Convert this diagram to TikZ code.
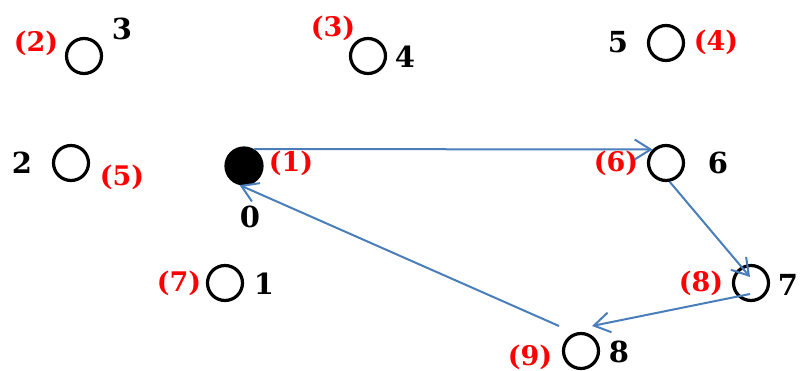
\documentclass[tikz,border=0pt]{standalone}
\usepackage{fontspec}
\setmainfont{DejaVu Serif}
\usetikzlibrary{arrows.meta}
\definecolor{arrowblue}{HTML}{4A7EBB}
\definecolor{labred}{HTML}{FF0000}
\begin{document}
\begin{tikzpicture}[x=1pt,y=-1pt,
  vert/.style={circle,draw=black,line width=3.2pt,minimum size=35pt,inner sep=0pt},
  vfill/.style={vert,fill=black,minimum size=36pt},
  num/.style={font=\fontsize{29}{29}\selectfont\bfseries,text=black,inner sep=0pt},
  ord/.style={font=\fontsize{27}{27}\selectfont\bfseries,text=labred,inner sep=0pt},
  link/.style={draw=arrowblue,line width=2pt,-{Straight Barb[length=16pt,width=20pt,line width=2pt]}}]
\useasboundingbox (0,0) rectangle (800,371);
% vertices
\node[vert] (n3) at (84,56) {};
\node[vert] (n4) at (368,56) {};
\node[vert] (n5) at (666,43) {};
\node[vert] (n2) at (71,163) {};
\node[vfill] (n0) at (244,166) {};
\node[vert] (n6) at (666,163) {};
\node[vert] (n1) at (225,283) {};
\node[vert] (n7) at (751,283) {};
\node[vert] (n8) at (581,351) {};
% black labels
\node[num] (l3) at (122,29) {3};
\node[num] (l4) at (405,57) {4};
\node[num] (l5) at (618,42) {5};
\node[num] (l2) at (22,163) {2};
\node[num] (l0) at (250,217) {0};
\node[num] (l6) at (718,163) {6};
\node[num] (l1) at (264,284) {1};
\node[num] (l7) at (788,285) {7};
\node[num] (l8) at (619,352) {8};
% red order labels
\node[ord] (o2) at (36,43) {(2)};
\node[ord] (o3) at (333,28) {(3)};
\node[ord] (o4) at (716,42) {(4)};
\node[ord] (o5) at (122,177) {(5)};
\node[ord] (o1) at (291,163) {(1)};
\node[ord] (o6) at (616,163) {(6)};
\node[ord] (o7) at (179,283) {(7)};
\node[ord] (o8) at (701,283) {(8)};
\node[ord] (o9) at (530,357) {(9)};
% connector ends
\coordinate (t7) at (750,277);
\coordinate (s7) at (750,294);
\coordinate (t8) at (592,326);
\coordinate (s8) at (559,326);
% connectors
\draw[link] (n0.60) -- (n6.135);
\draw[link] (n6.-79) -- (t7);
\draw[link] (s7) -- (t8);
\draw[link] (s8) -- (n0.-103);
\end{tikzpicture}
\end{document}
